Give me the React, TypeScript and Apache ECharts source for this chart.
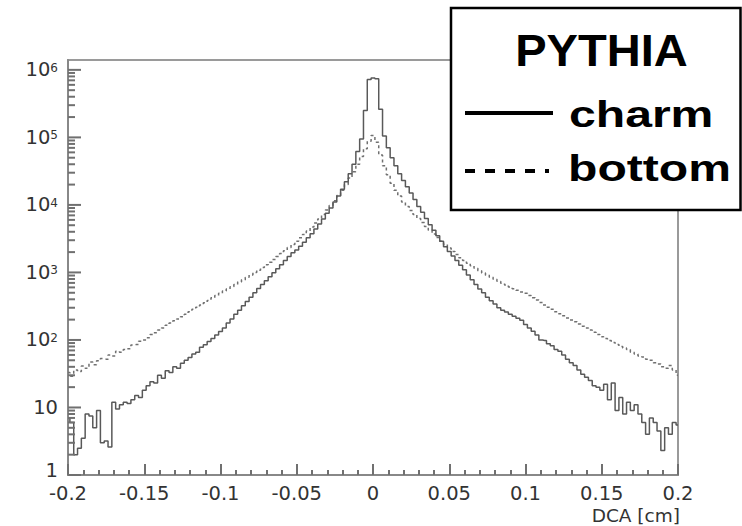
import React, { useEffect, useRef } from "react";
import * as echarts from "echarts";

// Histogram binning (bin centres from -0.2 to 0.2)
const binWidth = 0.0025;
const xMin = -0.2;

// charm (solid) – counts per bin
const charm = [
  7, 6, 2, 2.5, 3.5, 8, 7.5, 5, 9, 3,
  3.2, 2.6, 12, 9.5, 11, 12, 11.5, 13, 15, 14,
  18, 21, 24, 23, 30, 27, 35, 33, 40, 38,
  45, 50, 55, 62, 66, 78, 85, 95, 105, 118,
  133, 150, 178, 205, 240, 275, 320, 370, 430, 500,
  580, 660, 750, 860, 990, 1130, 1300, 1500, 1720, 1950,
  2150, 2450, 2800, 3250, 3750, 4400, 5200, 6200, 7500, 9000,
  11000, 13500, 17000, 22000, 29000, 40000, 62000, 95000, 250000, 720000,
  760000,
  740000, 260000, 105000, 70000, 50000, 38000, 29000, 23000, 18500, 15000,
  12000, 9500, 7800, 6300, 5100, 4200, 3500, 2900, 2400, 2050,
  1750, 1500, 1280, 1100, 920, 780, 660, 570, 500, 430,
  380, 340, 300, 275, 260, 240, 225, 210, 195, 170,
  150, 135, 118, 100, 98, 88, 82, 72, 68, 60,
  52, 46, 42, 36, 31, 28, 25, 21, 20, 18,
  22, 13, 23, 9, 14, 8, 12, 9, 11, 8,
  6, 4, 7, 6, 4.5, 2.3, 5, 4, 6, 5.5,
];

// bottom (dashed) – counts per bin
const bottom = [
  33, 29, 36, 34, 41, 38, 47, 43, 49, 53,
  52, 60, 58, 68, 66, 72, 74, 84, 86, 96,
  100, 108, 120, 128, 140, 150, 165, 178, 192, 205,
  220, 240, 262, 285, 305, 330, 355, 385, 420, 455,
  490, 530, 570, 615, 660, 720, 780, 850, 920, 1000,
  1080, 1180, 1300, 1420, 1560, 1720, 1900, 2100, 2350, 2600,
  2900, 3250, 3650, 4100, 4700, 5400, 6200, 7200, 8400, 9800,
  11500, 13800, 16500, 20000, 25000, 31000, 40000, 52000, 68000, 88000,
  107000,
  85000, 55000, 38000, 28000, 21000, 16500, 13500, 11000, 9500, 8300,
  7200, 6300, 5500, 4800, 4200, 3700, 3300, 2900, 2600, 2300,
  2050, 1850, 1650, 1500, 1370, 1260, 1150, 1060, 980, 910,
  850, 790, 740, 690, 650, 610, 575, 545, 515, 490,
  455, 420, 390, 360, 330, 305, 285, 262, 245, 228,
  212, 198, 186, 172, 160, 150, 140, 130, 120, 112,
  105, 98, 92, 86, 80, 76, 72, 66, 62, 58,
  56, 52, 50, 46, 44, 40, 38, 42, 36, 30,
];

const yMajorTicks = [1, 10, 100, 1000, 10000, 100000, 1000000];
const yMinorMantissas = [2, 3, 4, 5, 6, 7, 8, 9];
const legendTitle = "PYTHIA";
const seriesNames = ["charm", "bottom"];
const xAxisTitle = "DCA [cm]";

const AXIS_FONT = '"DejaVu Sans", sans-serif';
const LEGEND_FONT = '"Liberation Sans", Arial, Helvetica, sans-serif';
const TICK_COLOR = "#707070";

export default function App() {
  const ref = useRef<HTMLDivElement>(null);

  useEffect(() => {
    const chart = echarts.init(ref.current!, null, { renderer: "svg" });

    const centers = charm.map((_, i) => +(xMin + i * binWidth).toFixed(5));
    const yTickValues = [
      ...yMajorTicks,
      ...yMajorTicks.slice(0, -1).flatMap((d) => yMinorMantissas.map((m) => m * d)),
    ];

    const option: any = {
      animation: false,
      backgroundColor: "#ffffff",
      grid: {
        left: 68,
        right: 64,
        top: 60,
        bottom: 51,
        show: true,
        borderColor: "#9a9a9a",
        borderWidth: 2,
        backgroundColor: "transparent",
      },
      xAxis: {
        type: "value",
        min: -0.2,
        max: 0.2,
        interval: 0.05,
        axisLine: { show: true, onZero: false, lineStyle: { color: "#888", width: 2 } },
        axisTick: { show: true, inside: true, length: 11, lineStyle: { color: TICK_COLOR, width: 2 } },
        minorTick: { show: true, splitNumber: 5, length: 5, lineStyle: { color: TICK_COLOR, width: 2 } },
        splitLine: { show: false },
        axisLabel: {
          color: "#333",
          fontFamily: AXIS_FONT,
          fontSize: 19.5,
          lineHeight: 16,
          margin: 10,
        },
      },
      yAxis: {
        type: "log",
        logBase: 10,
        min: 1,
        max: 1.4e6,
        axisLine: { show: true, onZero: false, lineStyle: { color: "#888", width: 2 } },
        axisTick: { show: false },
        splitLine: { show: false },
        axisLabel: {
          color: "#333",
          fontFamily: AXIS_FONT,
          fontSize: 19.5,
          lineHeight: 16,
          margin: 10,
          formatter: (v: number) => {
            const lg = Math.log10(v);
            const e = Math.round(lg);
            if (Math.abs(lg - e) > 1e-6) return "";
            if (e === 0) return "{one|1}";
            if (e === 1) return "10";
            return `10{sup|${e}}`;
          },
          rich: {
            sup: {
              fontSize: 12,
              fontFamily: AXIS_FONT,
              color: "#333",
              verticalAlign: "top",
              padding: [0, 0, 12, 0],
            },
            one: {
              fontSize: 19.5,
              fontFamily: AXIS_FONT,
              color: "#333",
              padding: [0, 0, 9, 0],
            },
          },
        },
      },
      series: [
        {
          name: seriesNames[0],
          type: "line",
          step: "middle",
          symbol: "none",
          data: centers.map((x, i) => [x, charm[i]]),
          lineStyle: { color: "#595959", width: 1.5, type: "solid" },
          z: 3,
        },
        {
          name: seriesNames[1],
          type: "line",
          step: "middle",
          symbol: "none",
          data: centers.map((x, i) => [x, bottom[i]]),
          lineStyle: { color: "#707070", width: 1.5, type: [3, 3] },
          z: 2,
        },
        {
          type: "custom",
          silent: true,
          clip: false,
          data: yTickValues.map((v) => [0, v]),
          renderItem: (params: any, api: any) => {
            const v = api.value(1);
            const pt = api.coord([0, v]);
            const x0 = params.coordSys.x;
            const lg = Math.log10(v);
            const major = Math.abs(lg - Math.round(lg)) < 1e-6;
            return {
              type: "line",
              shape: { x1: x0, y1: pt[1], x2: x0 + (major ? 13 : 7), y2: pt[1] },
              style: { stroke: TICK_COLOR, lineWidth: 2 },
            };
          },
          z: 4,
        },
      ],
      graphic: [
        {
          type: "rect",
          z: 100,
          shape: { x: 451, y: 8, width: 289.5, height: 202 },
          style: { fill: "#fff", stroke: "#000", lineWidth: 2.5 },
        },
        {
          type: "text",
          z: 101,
          x: 601.5,
          y: 51,
          scaleX: 1.07,
          style: {
            text: legendTitle,
            fill: "#000",
            fontSize: 44,
            fontWeight: "bold",
            fontFamily: LEGEND_FONT,
            align: "center",
            verticalAlign: "middle",
          },
        },
        {
          type: "line",
          z: 101,
          shape: { x1: 465, y1: 113, x2: 553, y2: 113 },
          style: { stroke: "#000", lineWidth: 4 },
        },
        {
          type: "text",
          z: 101,
          x: 569,
          y: 114,
          scaleX: 1.3,
          style: {
            text: seriesNames[0],
            fill: "#000",
            fontSize: 37,
            fontWeight: "bold",
            fontFamily: LEGEND_FONT,
            align: "left",
            verticalAlign: "middle",
          },
        },
        {
          type: "line",
          z: 101,
          shape: { x1: 465, y1: 171, x2: 549, y2: 171 },
          style: { stroke: "#000", lineWidth: 4, lineDash: [10, 10] },
        },
        {
          type: "text",
          z: 101,
          x: 568,
          y: 168,
          scaleX: 1.3,
          style: {
            text: seriesNames[1],
            fill: "#000",
            fontSize: 37,
            fontWeight: "bold",
            fontFamily: LEGEND_FONT,
            align: "left",
            verticalAlign: "middle",
          },
        },
        {
          type: "text",
          z: 50,
          x: 680,
          y: 515,
          style: {
            text: xAxisTitle,
            fill: "#333",
            fontSize: 18.5,
            fontFamily: AXIS_FONT,
            align: "right",
            verticalAlign: "middle",
          },
        },
      ],
    };

    chart.setOption(option);
    return () => chart.dispose();
  }, []);

  return (
    <div
      ref={ref}
      style={{ position: "absolute", left: 0, top: 0, width: 742, height: 526 }}
    />
  );
}
